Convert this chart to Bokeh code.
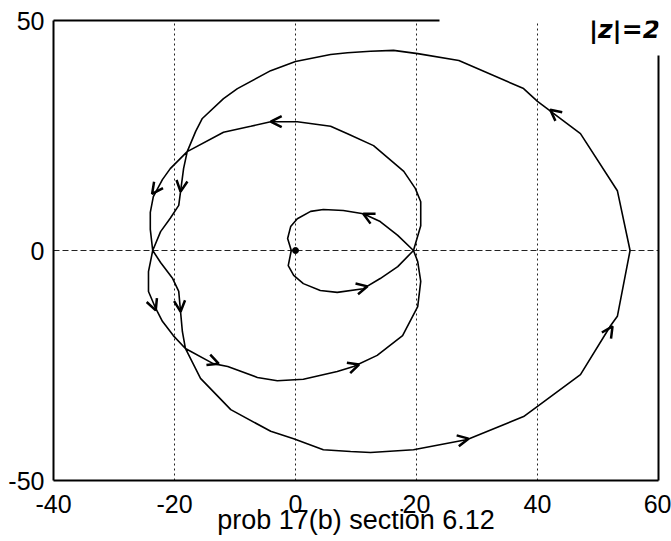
from bokeh.plotting import figure
from bokeh.models import (Range1d, LinearAxis, FixedTicker, Label, Arrow,
                          OpenHead, ColumnDataSource)
from bokeh.embed import file_html
from bokeh.resources import INLINE

# ---- data (image of |z| = 2) ----
curve_x = [55.3, 53.2, 47.1, 40.0, 37.7, 27.0, 20.2, 16.2, 12.4, 8.6, 5.8, 0.0, -4.1, -9.6,
           -11.9, -15.4, -16.5, -17.9, -18.5, -19.0, -19.3, -20.7, -22.3, -23.6,
           -24.3, -24.3, -23.1, -22.0, -20.2, -18.2, -13.6, -11.2, -6.3, -3.0, 1.3, 6.9,
           9.6, 13.5, 17.7, 20.2, 20.7, 20.2, 19.5,
           16.9, 14.0, 11.2, 7.9, 4.6, 2.5, 0.3, -0.8, -1.3, -0.7, -1.2, -0.3, 1.3, 4.1,
           6.9, 11.2, 14.0, 16.9, 19.5,
           20.7, 20.7, 19.8, 17.9, 12.9, 8.6, 5.8, 0.3, -4.1, -7.4, -11.9, -17.9, -20.7,
           -22.0, -23.5, -24.0, -24.0, -23.6,
           -22.3, -20.3, -19.3, -19.0, -18.7, -18.2, -15.7, -10.7, -4.1, -0.3, 4.6, 9.1,
           12.4, 19.5, 28.4, 37.7, 40.0, 47.1, 52.1, 53.2, 55.3]
curve_y = [0.0, 13.0, 25.4, 32.4, 35.2, 41.3, 42.8, 43.5, 43.3, 43.0, 42.6, 41.1, 39.1, 35.2,
           33.0, 28.7, 25.9, 21.5, 17.8, 12.8, 9.8, 7.0, 4.1, 0.0,
           -4.6, -8.9, -12.6, -15.4, -18.5, -21.3, -24.6, -25.2, -27.6, -28.3, -28.0, -26.3,
           -25.2, -22.8, -18.5, -12.2, -6.7, -2.4, 0.0,
           3.3, 6.3, 8.0, 8.7, 8.9, 8.5, 6.9, 5.2, 2.6, 0.0, -3.3, -5.4, -7.2, -8.7,
           -9.1, -8.3, -6.1, -3.5, 0.0,
           5.4, 10.6, 13.5, 17.2, 22.8, 25.4, 27.0, 28.0, 28.0, 27.0, 25.7, 21.5, 17.8,
           15.4, 11.7, 8.3, 4.6, 0.0,
           -2.6, -6.1, -8.9, -13.3, -17.6, -21.3, -27.8, -34.6, -39.3, -40.9, -43.3, -43.7,
           -43.9, -43.3, -41.1, -36.1, -33.9, -27.0, -16.3, -14.3, 0.0]

# direction arrows: from (x0, y0) toward the head at (x1, y1)
arrow_x0 = [47.1, 0.3, -18.5, -22.0, -24.3, -19.3, -16.0, 6.9, 19.5, 47.1, 14.0, 7.0]
arrow_y0 = [25.4, 28.0, 17.8, 15.4, -8.9, -8.9, -23.0, -26.3, -43.3, -27.0, 6.1, -9.3]
arrow_x1 = [42.1, -4.1, -19.0, -23.7, -23.1, -19.0, -12.7, 10.5, 28.6, 52.4, 11.2, 11.9]
arrow_y1 = [30.6, 28.0, 12.8, 12.3, -13.0, -13.3, -24.6, -24.8, -40.9, -16.5, 8.0, -7.8]

x_ticks = [-40, -20, 0, 20, 40, 60]
y_ticks = [-50, 0, 50]
x_grid = [-20, 0, 20, 40]
y_grid = [0]

TOP_EDGE_END = 23.8      # top frame line stops here (erased on the scan)
RIGHT_EDGE_END = 42.4    # right frame line stops here

FONT = "Liberation Sans"

p = figure(width=671, height=541, x_range=Range1d(-40, 60), y_range=Range1d(-50, 50),
           output_backend="svg", toolbar_location=None,
           min_border_left=53, min_border_right=13, min_border_top=20, min_border_bottom=61)
p.outline_line_color = None
p.background_fill_color = "white"
p.border_fill_color = "white"

for ax in (p.xaxis[0], p.yaxis[0]):
    ax.axis_line_color = "black"
    ax.axis_line_width = 2
    ax.major_tick_line_color = None
    ax.minor_tick_line_color = None
    ax.major_tick_out = 0
    ax.major_tick_in = 0
    ax.minor_tick_out = 0
    ax.minor_tick_in = 0
    ax.major_label_text_font = FONT
    ax.major_label_text_font_size = "25px"
    ax.major_label_text_color = "black"

p.xaxis.ticker = FixedTicker(ticks=x_ticks)
p.yaxis.ticker = FixedTicker(ticks=y_ticks)
p.xaxis.major_label_overrides = {t: str(t) for t in x_ticks}
p.yaxis.major_label_overrides = {t: str(t) for t in y_ticks}
p.xaxis.major_label_standoff = 14
p.yaxis.major_label_standoff = 9
p.xaxis.axis_label = "prob 17(b) section 6.12"
p.xaxis.axis_label_text_font = FONT
p.xaxis.axis_label_text_font_size = "27px"
p.xaxis.axis_label_text_font_style = "normal"
p.xaxis.axis_label_text_color = "black"
p.xaxis.axis_label_standoff = -11


def edge_axis(bounds):
    return LinearAxis(bounds=bounds, ticker=FixedTicker(ticks=[]),
                      axis_line_width=2, axis_line_color="black",
                      major_tick_line_color=None, minor_tick_line_color=None,
                      major_tick_out=0, major_tick_in=0, minor_tick_out=0, minor_tick_in=0,
                      major_label_standoff=0, major_label_text_font_size="0px",
                      axis_label_standoff=0)


p.add_layout(edge_axis((-40, TOP_EDGE_END)), "above")
p.add_layout(edge_axis((-50, RIGHT_EDGE_END)), "right")

p.xgrid.ticker = FixedTicker(ticks=x_grid)
p.ygrid.ticker = FixedTicker(ticks=y_grid)
p.xgrid.grid_line_color = "#222222"
p.xgrid.grid_line_dash = "2 3"
p.xgrid.grid_line_width = 1
p.ygrid.grid_line_color = "#222222"
p.ygrid.grid_line_dash = "6 3"
p.ygrid.grid_line_width = 1

p.line(curve_x, curve_y, line_color="black", line_width=1.6)

# origin dot
p.scatter([0], [0], size=6, color="black")

src = ColumnDataSource(dict(x0=arrow_x0, y0=arrow_y0, x1=arrow_x1, y1=arrow_y1))
p.add_layout(Arrow(end=OpenHead(size=11, line_width=2.5, line_color="black"),
                   x_start="x0", y_start="y0", x_end="x1", y_end="y1",
                   source=src, line_alpha=0))

p.add_layout(Label(x=48.5, y=44.8, text="|z|=2", text_font="DejaVu Sans",
                   text_font_size="25px", text_font_style="bold italic",
                   text_color="black", text_baseline="bottom"))

open("out.html", "w").write(file_html(p, INLINE))
